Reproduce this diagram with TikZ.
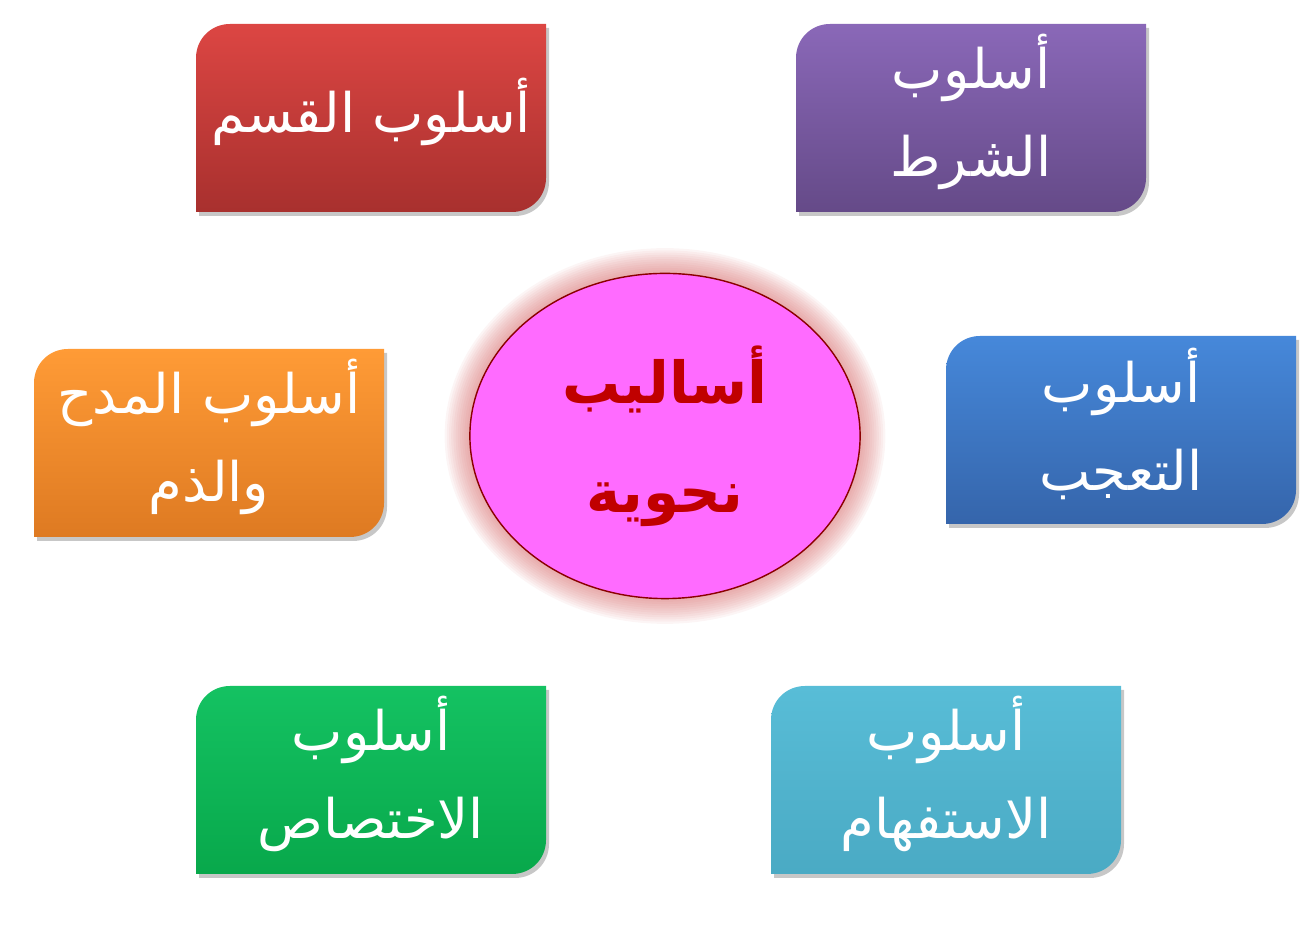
\documentclass[tikz,border=0pt]{standalone}
\usepackage{fontspec}
\newfontfamily\arabicfont[Script=Arabic]{DejaVu Sans}
\TeXXeTstate=1
\usetikzlibrary{shapes.geometric}

\definecolor{merahA}{HTML}{DC4643}
\definecolor{merahB}{HTML}{A8302E}
\definecolor{unguA}{HTML}{8A68B8}
\definecolor{unguB}{HTML}{654A88}
\definecolor{oranyeA}{HTML}{FF9B36}
\definecolor{oranyeB}{HTML}{DE7A22}
\definecolor{biruA}{HTML}{4688DA}
\definecolor{biruB}{HTML}{3565AB}
\definecolor{hijauA}{HTML}{14C262}
\definecolor{hijauB}{HTML}{08A84B}
\definecolor{tosqaA}{HTML}{58BDD7}
\definecolor{tosqaB}{HTML}{4AAAC4}
\definecolor{merahjambu}{HTML}{FF6BFF}
\definecolor{merahtua}{HTML}{C00000}
\definecolor{garistepi}{HTML}{8B0000}
\definecolor{cahaya}{HTML}{D25C5C}

% bentuk kotak dengan dua sudut membulat
\newcommand{\bentukkotak}[2]{({#1},{#2+188}) -- ({#1},{#2+34})
  .. controls ({#1},{#2+15}) and ({#1+15},{#2}) .. ({#1+34},{#2})
  -- ({#1+350},{#2}) -- ({#1+350},{#2+154})
  .. controls ({#1+350},{#2+173}) and ({#1+335},{#2+188}) .. ({#1+316},{#2+188}) -- cycle}

\tikzset{
  judul/.style={text=white, align=center, font=\arabicfont\fontsize{15.5}{25}\selectfont},
  inti/.style={text=merahtua, align=center, font=\arabicfont\bfseries\fontsize{16.5}{31}\selectfont},
}

\begin{document}
\begin{tikzpicture}[x=0.01cm,y=-0.01cm]
    \useasboundingbox (0,0) rectangle (1305,928);

    % kotak-kotak jenis uslub
    \foreach \nama/\X/\Y/\atas/\bawah/\isi in {
        qasam/196/24/merahA/merahB/{\beginR أسلوب القسم\endR},
        syarat/796/24/unguA/unguB/{\beginR أسلوب\endR\\\beginR الشرط\endR},
        madah/34/349/oranyeA/oranyeB/{\beginR أسلوب المدح\endR\\\beginR والذم\endR},
        taajjub/946/336/biruA/biruB/{\beginR أسلوب\endR\\\beginR التعجب\endR},
        ikhtisas/196/686/hijauA/hijauB/{\beginR أسلوب\endR\\\beginR الاختصاص\endR},
        istifham/771/686/tosqaA/tosqaB/{\beginR أسلوب\endR\\\beginR الاستفهام\endR}}
    {
        \fill[black, opacity=0.22, shift={(3,4)}] \bentukkotak{\X}{\Y};
        \shade[top color=\atas, bottom color=\bawah] \bentukkotak{\X}{\Y};
        \node[judul] (\nama) at ({\X+175},{\Y+88}) {\isi};
    }

    % cahaya di sekitar elips
    \foreach \i in {1,...,12}
        \fill[cahaya, opacity=0.06] (665,436) ellipse ({194+2.2*\i} and {161.5+2.2*\i});

    % elips tengah
    \node[ellipse, draw=garistepi, fill=merahjambu, minimum width=3.9cm,
          minimum height=3.25cm, inner sep=0pt, inti] (asalib) at (665,436)
          {\beginR أساليب\endR\\\beginR نحوية\endR};
\end{tikzpicture}
\end{document}
